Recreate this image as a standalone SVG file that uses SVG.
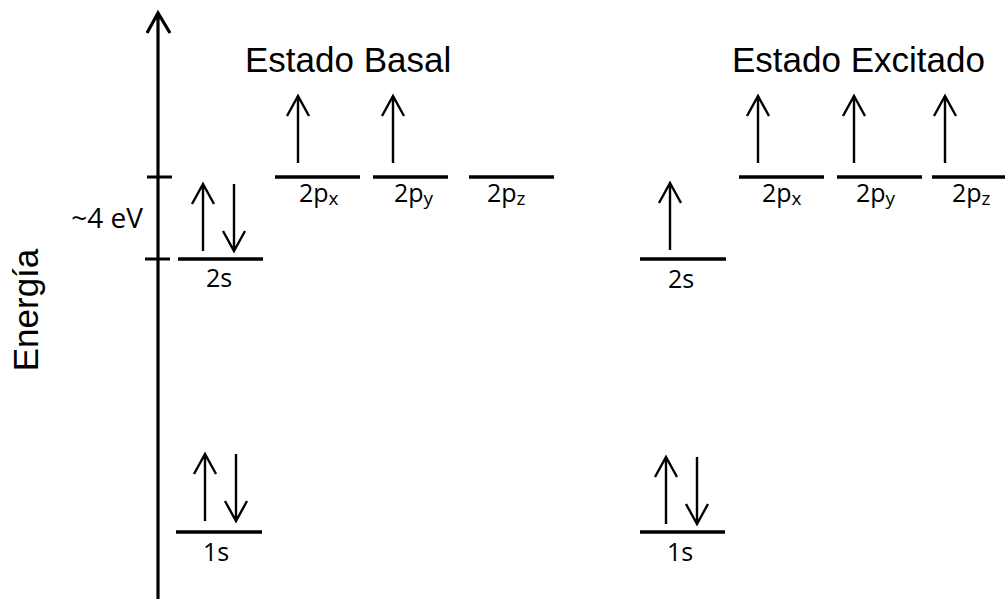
<svg xmlns="http://www.w3.org/2000/svg" width="1005" height="599" viewBox="0 0 1005 599">
<style>
.lvl{stroke:#000;stroke-width:3.5;fill:none}
.ax{stroke:#000;stroke-width:3.2;fill:none}
.e{stroke:#000;stroke-width:2.4;fill:none}
.lbl{font-family:"Open Sans",sans-serif;font-size:25px;fill:#000}
.sub{font-size:19px}
.title{font-family:"Liberation Sans",Arial,sans-serif;font-size:35px;fill:#000}
</style>
<defs>
<g id="up"><path class="e" d="M0,67 V0 M-11,20 L0,0 L11,20"/></g>
<g id="dn"><path class="e" d="M0,0 V67 M-11,47 L0,67 L11,47"/></g>
</defs>
<rect width="1005" height="599" fill="#fff"/>
<g id="axis">
<path class="ax" d="M158,599 V14 M147,33 L158,13 L170,33"/>
<path class="ax" d="M147,177 H172 M145,259 H170"/>
<text class="title" transform="translate(38,310) rotate(-90)" text-anchor="middle">Energía</text>
<text class="lbl" x="143" y="228" text-anchor="end" style="font-size:28px">~4 eV</text>
</g>
<g id="titles">
<text class="title" x="245" y="72">Estado Basal</text>
<text class="title" x="732" y="72">Estado Excitado</text>
</g>
<g id="basal-2p">
<path class="lvl" d="M275,177 H360 M373,177 H448 M469,177 H554"/>
<use href="#up" x="298" y="96"/>
<use href="#up" x="393" y="96"/>
<text class="lbl" x="299" y="202">2p<tspan class="sub" dy="3">x</tspan></text>
<text class="lbl" x="394" y="202">2p<tspan class="sub" dy="3">y</tspan></text>
<text class="lbl" x="487" y="202">2p<tspan class="sub" dy="3">z</tspan></text>
</g>
<g id="basal-2s">
<path class="lvl" d="M178,259 H263"/>
<use href="#up" x="203" y="184"/>
<use href="#dn" x="234" y="184"/>
<text class="lbl" x="206" y="287">2s</text>
</g>
<g id="basal-1s">
<path class="lvl" d="M176,532 H262"/>
<use href="#up" x="205" y="454"/>
<use href="#dn" x="236" y="454"/>
<text class="lbl" x="203" y="561">1s</text>
</g>
<g id="exc-2p">
<path class="lvl" d="M739,177 H824 M837,177 H922 M932,177 H1005"/>
<use href="#up" x="758" y="96"/>
<use href="#up" x="854" y="96"/>
<use href="#up" x="945" y="96"/>
<text class="lbl" x="762" y="202">2p<tspan class="sub" dy="3">x</tspan></text>
<text class="lbl" x="856" y="202">2p<tspan class="sub" dy="3">y</tspan></text>
<text class="lbl" x="952" y="202">2p<tspan class="sub" dy="3">z</tspan></text>
</g>
<g id="exc-2s">
<path class="lvl" d="M640,259 H726"/>
<use href="#up" x="670" y="183"/>
<text class="lbl" x="668" y="288">2s</text>
</g>
<g id="exc-1s">
<path class="lvl" d="M640,532 H725"/>
<use href="#up" x="666" y="457"/>
<use href="#dn" x="697" y="457"/>
<text class="lbl" x="667" y="561">1s</text>
</g>
</svg>
